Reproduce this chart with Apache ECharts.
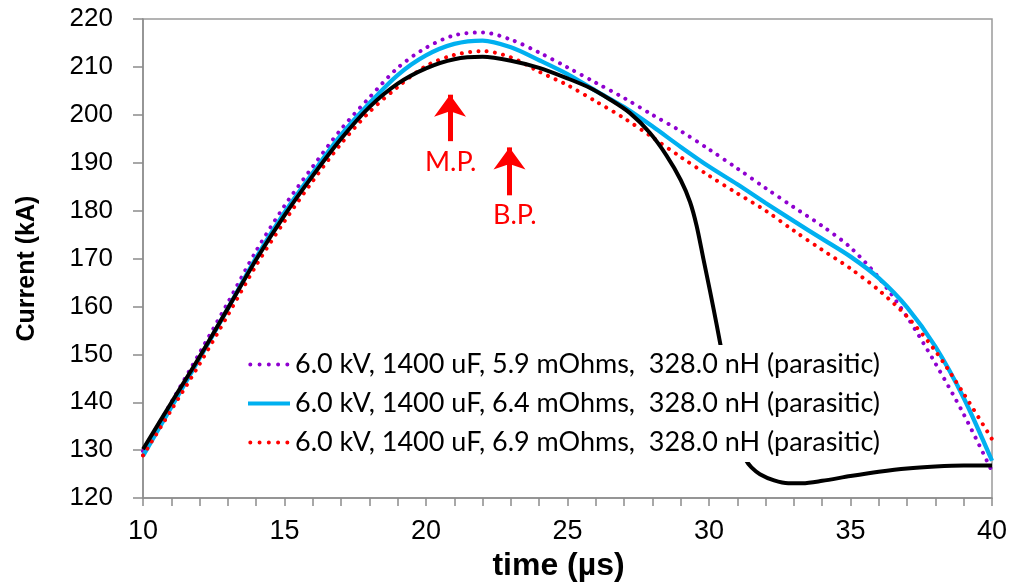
<!DOCTYPE html>
<html>
<head>
<meta charset="utf-8">
<script src="https://cdn.jsdelivr.net/npm/echarts@6/dist/echarts.min.js"></script>
<style>
  html, body { margin: 0; padding: 0; background: #fff; }
  #chart { width: 1011px; height: 587px; }
</style>
</head>
<body>
<div id="chart"></div>
<script>
// Discharge current: three circuit-model runs and the measured trace
const modelTime = [10, 11, 12, 13, 14, 15, 16, 17, 18, 19, 20, 21, 22, 23, 24, 25,
  26, 27, 28, 29, 30, 31, 32, 33, 34, 35, 36, 37, 38, 39, 40];

const model59 = [129.8, 140.0, 150.3, 160.8, 171.6, 181.0, 189.2, 197.0, 203.6, 209.8, 214.0,
  216.6, 217.2, 215.7, 213.0, 209.9, 206.7, 203.5, 200.0, 196.6, 192.8, 188.8, 184.7,
  180.7, 176.8, 172.3, 166.0, 157.8, 148.1, 137.5, 125.6];

const model64 = [128.8, 139.0, 149.2, 159.6, 170.2, 179.6, 187.9, 195.8, 202.4, 208.3, 212.4,
  214.8, 215.5, 214.1, 211.4, 208.5, 205.0, 201.6, 197.6, 193.3, 189.2, 185.5, 181.6,
  177.8, 174.1, 170.4, 165.9, 159.8, 151.6, 140.9, 127.8];

const model69 = [128.9, 138.4, 148.0, 158.2, 168.6, 177.8, 186.2, 194.0, 200.6, 205.8, 210.2,
  212.5, 213.3, 212.0, 209.0, 206.2, 202.8, 199.3, 195.3, 191.2, 187.3, 183.6, 180.0,
  175.8, 171.8, 167.9, 163.4, 157.9, 150.7, 141.8, 132.3];

const measuredTime = [10, 11, 12, 13, 14, 15, 16, 17, 18, 19, 20, 21, 22, 23, 24, 25, 25.8,
  26.5, 27.2, 27.9, 28.5, 29.0, 29.33, 29.56, 29.8, 30.04, 30.27, 30.5, 30.75, 31.0, 31.15,
  31.3, 31.5, 31.8, 32.3, 32.8, 33.3, 34, 35, 36, 37, 38, 39, 40];
const measuredCurrent = [130.2, 139.9, 149.5, 159.6, 169.8, 179.0, 187.3, 195.0, 201.6, 206.5,
  209.7, 211.6, 212.1, 211.3, 209.8, 207.6, 205.6, 203.2, 200.4, 196.3, 191.5, 186.4, 181.8,
  176.9, 170.0, 163.1, 156.2, 149.0, 141.0, 134.0, 130.5, 128.0, 126.4, 125.0, 123.7, 123.1,
  123.1, 123.6, 124.6, 125.5, 126.2, 126.6, 126.8, 126.8];

const seriesNames = [
  '6.0 kV, 1400 uF, 5.9 mOhms,  328.0 nH (parasitic)',
  '6.0 kV, 1400 uF, 6.4 mOhms,  328.0 nH (parasitic)',
  '6.0 kV, 1400 uF, 6.9 mOhms,  328.0 nH (parasitic)'
];

// Annotation arrows: [time, tail current, head current]
const arrowNames = ['M.P.', 'B.P.'];
const arrowTime = [20.85, 22.95];
const arrowTail = [194.5, 183.2];
const arrowHead = [204.2, 193.2];
const arrowLabelTime = [20.87, 23.14];
const arrowLabelCurrent = [190.0, 179.0];

const pairs = (xs, ys) => xs.map((x, i) => [x, ys[i]]);

const dotted = (color) => ({
  color: color,
  width: 4,
  type: [0.01, 8.3],
  cap: 'round'
});

// legend samples of the dotted runs: five round dots across the key
const legendDots = { type: [0.01, 9.25], dashOffset: 6.96, cap: 'round', width: 4 };

const chart = echarts.init(document.getElementById('chart'), null, { renderer: 'canvas' });

const axisGray = '#8c8c8c';

chart.setOption({
  animation: false,
  backgroundColor: '#ffffff',
  grid: {
    left: 143, right: 19, top: 19, bottom: 86,
    show: true, borderColor: '#9a9a9a', borderWidth: 1.5
  },
  xAxis: {
    type: 'value',
    min: 10, max: 40, interval: 5,
    name: 'time (µs)',
    nameLocation: 'middle',
    nameGap: 50,
    nameTextStyle: {
      fontFamily: 'Liberation Sans', fontWeight: 'bold', fontSize: 32, color: '#000',
      padding: [0, 18, 0, 0]
    },
    axisLine: { lineStyle: { color: axisGray, width: 1.5 } },
    axisTick: { show: true, length: 8, inside: false, lineStyle: { color: axisGray, width: 1.5 } },
    minorTick: { show: true, splitNumber: 5, length: 8, lineStyle: { color: axisGray, width: 1.5 } },
    axisLabel: { fontFamily: 'Liberation Sans', fontSize: 27, color: '#000', margin: 20 },
    splitLine: { show: false }
  },
  yAxis: {
    type: 'value',
    min: 120, max: 220, interval: 10,
    name: 'Current (kA)',
    nameLocation: 'middle',
    nameGap: 103,
    nameTextStyle: {
      fontFamily: 'Liberation Sans', fontWeight: 'bold', fontSize: 25, color: '#000',
      padding: [0, 20, 0, 0]
    },
    axisLine: { show: true, lineStyle: { color: axisGray, width: 1.5 } },
    axisTick: { show: true, length: 10, inside: false, lineStyle: { color: axisGray, width: 1.5 } },
    axisLabel: { fontFamily: 'Liberation Sans', fontSize: 26, color: '#000', margin: 30 },
    splitLine: { show: false }
  },
  legend: {
    orient: 'vertical',
    left: 246,
    top: 345,
    padding: 0,
    itemGap: 0,
    itemWidth: 42,
    itemHeight: 14,
    backgroundColor: '#ffffff',
    itemStyle: { opacity: 0 },
    lineStyle: { width: 4 },
    data: [
      { name: seriesNames[0], lineStyle: legendDots },
      { name: seriesNames[1] },
      { name: seriesNames[2], lineStyle: legendDots }
    ],
    textStyle: { fontFamily: 'Lato', fontSize: 27, color: '#000', lineHeight: 39 }
  },
  series: [
    {
      name: seriesNames[0],
      type: 'line',
      symbol: 'none',
      smooth: 0.3,
      data: pairs(modelTime, model59),
      lineStyle: dotted('#8f00d0'),
      itemStyle: { color: '#8f00d0' },
      z: 2
    },
    {
      name: seriesNames[1],
      type: 'line',
      symbol: 'none',
      smooth: 0.3,
      data: pairs(modelTime, model64),
      lineStyle: { color: '#00b0f0', width: 4.3 },
      itemStyle: { color: '#00b0f0' },
      z: 2
    },
    {
      name: seriesNames[2],
      type: 'line',
      symbol: 'none',
      smooth: 0.3,
      data: pairs(modelTime, model69),
      lineStyle: dotted('#ff0000'),
      itemStyle: { color: '#ff0000' },
      z: 2
    },
    {
      name: 'measured',
      type: 'line',
      symbol: 'none',
      smooth: 0.3,
      data: pairs(measuredTime, measuredCurrent),
      lineStyle: { color: '#000000', width: 4 },
      itemStyle: { color: '#000000' },
      z: 3
    },
    {
      name: 'annotations',
      type: 'line',
      data: [],
      symbol: 'none',
      markLine: {
        silent: true,
        symbol: ['none', 'arrow'],
        symbolSize: [24, 22],
        label: { show: false },
        lineStyle: { color: '#ff0000', width: 5, type: 'solid' },
        data: arrowTime.map((t, i) => [
          { coord: [t, arrowTail[i]] },
          { coord: [t, arrowHead[i]] }
        ])
      },
      markPoint: {
        silent: true,
        symbol: 'circle',
        symbolSize: 0,
        label: {
          show: true,
          position: 'inside',
          formatter: '{b}',
          fontFamily: 'Lato',
          fontSize: 27,
          color: '#ff0000'
        },
        data: arrowNames.map((n, i) => ({ name: n, coord: [arrowLabelTime[i], arrowLabelCurrent[i]] }))
      }
    }
  ]
});
</script>
</body>
</html>
